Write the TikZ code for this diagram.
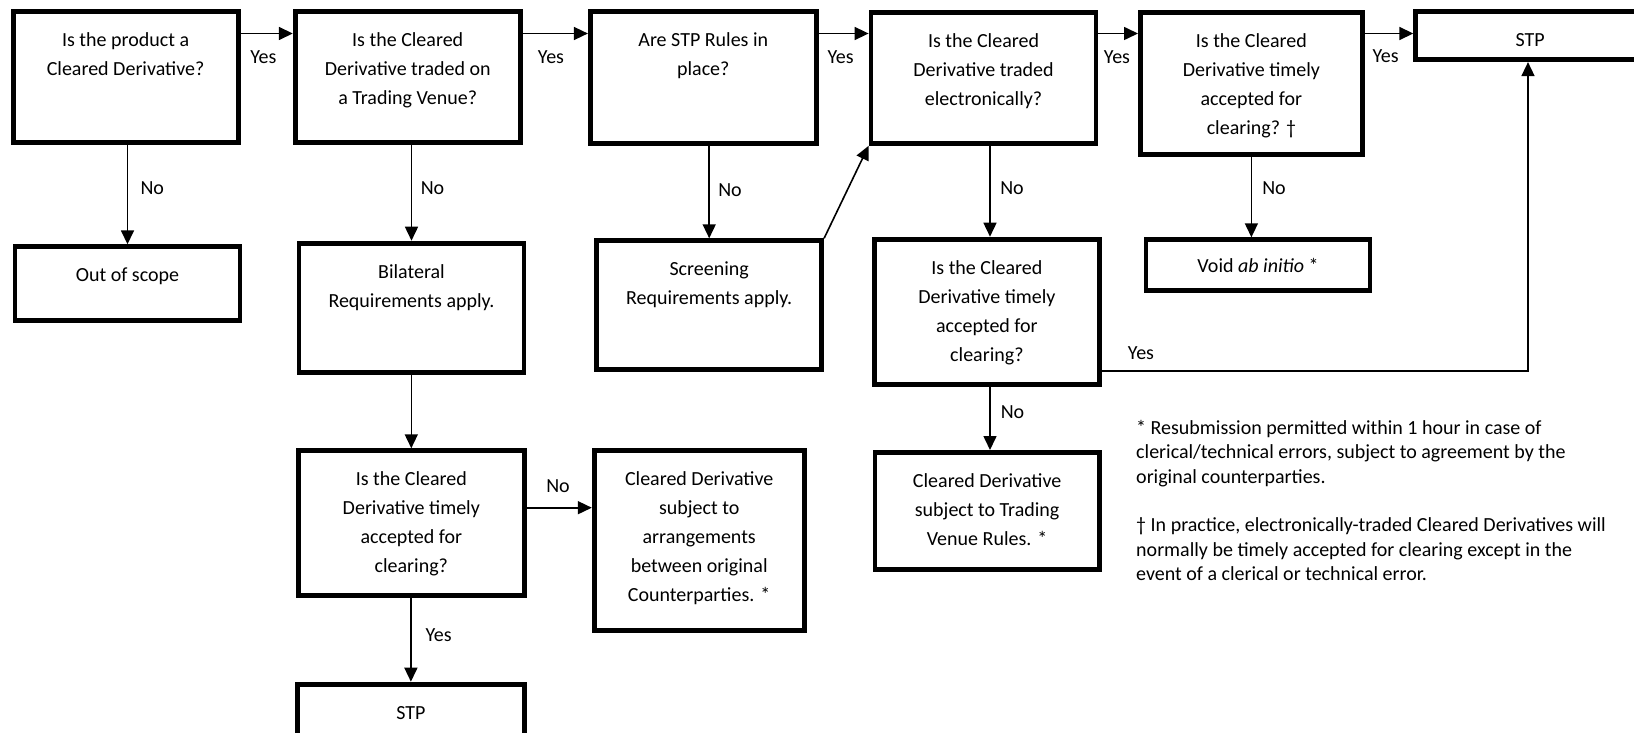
\documentclass[tikz,border=0pt]{standalone}
\usepackage{fontspec}
\setmainfont{Carlito}
\usetikzlibrary{arrows.meta}
\newcommand{\bt}[4]{\parbox[t][#2pt][t]{#1pt}{\centering\rule{0pt}{#3pt}#4}}
\begin{document}
\begin{tikzpicture}[x=1pt,y=-1pt,
  box/.style={draw, line width=4.8pt, inner sep=0pt, anchor=north west, font=\fontsize{20}{29}\selectfont},
  arr/.style={line width=1.6pt, -{Triangle[length=14pt,width=13pt]}},
  lbl/.style={font=\fontsize{20}{24}\selectfont, inner sep=0pt},
  foot/.style={font=\fontsize{20}{24.5}\selectfont, inner sep=0pt, anchor=base west}]
\useasboundingbox (0,0) rectangle (1634,733);
\clip (0,0) rectangle (1634,733);
% boxes
\node[box] (A) at (10.7,9.3) {\bt{225}{130.5}{35}{Is the product a\\Cleared Derivative?}};
\node[box] (B) at (292.8,9.3) {\bt{225}{130.5}{35}{Is the Cleared\\Derivative traded on\\a Trading Venue?}};
\node[box] (C) at (587.9,9.3) {\bt{226}{132}{35}{Are STP Rules in\\place?}};
\node[box] (D) at (868.6,10) {\bt{225}{131}{35}{Is the Cleared\\Derivative traded\\electronically?}};
\node[box] (F) at (1138,10) {\bt{222}{142}{35}{Is the Cleared\\Derivative timely\\accepted for\\clearing? †}};
\node[box] (STP1) at (1413.3,9.3) {\bt{229}{48}{35}{STP}};
\node[box] (O) at (12.6,244.3) {\bt{225}{74}{35}{Out of scope}};
\node[box] (Bil) at (296.6,240.7) {\bt{225}{129}{35}{Bilateral\\Requirements apply.}};
\node[box] (Scr) at (594.3,238.3) {\bt{225}{129}{35}{Screening\\Requirements apply.}};
\node[box] (E) at (872,236.7) {\bt{225}{145.5}{35}{Is the Cleared\\Derivative timely\\accepted for\\clearing?}};
\node[box] (V) at (1143.6,237.3) {\bt{224}{50.5}{33}{Void \textit{ab initio} *}};
\node[box] (G) at (295.9,448.3) {\bt{226}{144.5}{35}{Is the Cleared\\Derivative timely\\accepted for\\clearing?}};
\node[box] (H) at (591.8,448.3) {\bt{210}{180}{35}{Cleared Derivative\\subject to\\arrangements\\between original\\Counterparties. *}};
\node[box] (I) at (872.5,450) {\bt{224.5}{117}{35}{Cleared Derivative\\subject to Trading\\Venue Rules. *}};
\node[box] (STP2) at (295,681.7) {\bt{227}{60}{35}{STP}};
% helper rows/columns
\coordinate (r1) at (0,33.5);
\coordinate (r3) at (0,507.7);
\coordinate (r4) at (0,371);
\coordinate (cD) at (990,0);
\coordinate (c5) at (1528,0);
% connectors
\draw[arr] (A.east |- r1) -- (B.west |- r1);
\draw[arr] (B.east |- r1) -- (C.west |- r1);
\draw[arr] (C.east |- r1) -- (D.west |- r1);
\draw[arr] (D.east |- r1) -- (F.west |- r1);
\draw[arr] (F.east |- r1) -- (STP1.west |- r1);
\draw[arr] (O.north |- A.south) -- (O.north);
\draw[arr] (Bil.north |- B.south) -- (Bil.north);
\draw[arr] (G.north |- Bil.south) -- (G.north);
\draw[arr] (G.east |- r3) -- (H.west |- r3);
\draw[arr] (STP2.north |- G.south) -- (STP2.north);
\draw[arr] (Scr.north |- C.south) -- (Scr.north);
\draw[arr] (Scr.north east) -- (D.south west);
\draw[arr] (cD |- D.south) -- (cD |- E.north);
\draw[arr] (cD |- E.south) -- (cD |- I.north);
\draw[arr] (E.east |- r4) -- (c5 |- r4) -- (c5 |- STP1.south);
\draw[arr] (F.south) -- (F.south |- V.north);
% labels
\node[lbl] (l1) at (263.3,56.7) {Yes};
\node[lbl] (l2) at (551,57) {Yes};
\node[lbl] (l3) at (840.7,57) {Yes};
\node[lbl] (l4) at (1117,57) {Yes};
\node[lbl] (l5) at (1385.6,56) {Yes};
\node[lbl] (l6) at (152.3,188) {No};
\node[lbl] (l7) at (432.5,188) {No};
\node[lbl] (l8) at (730,190) {No};
\node[lbl] (l9) at (1012,188) {No};
\node[lbl] (l10) at (1274,188) {No};
\node[lbl] (l11) at (1141,353.3) {Yes};
\node[lbl] (l12) at (1012.5,412) {No};
\node[lbl] (l13) at (558,486) {No};
\node[lbl] (l14) at (438.7,635) {Yes};
% footnotes
\node[foot] (note) at (1136,434) {\parbox[t]{600pt}{\raggedright
* Resubmission permitted within 1 hour in case of\\
clerical/technical errors, subject to agreement by the\\
original counterparties.\\[24pt]
† In practice, electronically-traded Cleared Derivatives will\\
normally be timely accepted for clearing except in the\\
event of a clerical or technical error.}};
\end{tikzpicture}
\end{document}
